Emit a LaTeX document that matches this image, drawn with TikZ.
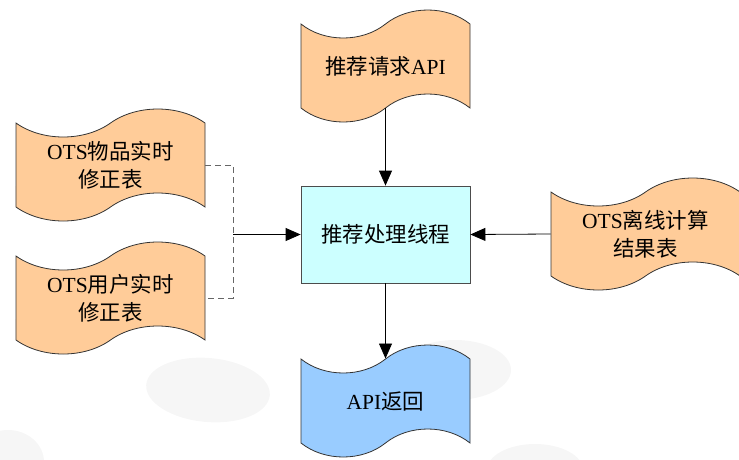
\documentclass[tikz,border=0pt]{standalone}
\usepackage{fontspec}
\setmainfont{Liberation Serif}
\newfontfamily\cjk{Noto Sans CJK SC}
\newcommand{\zh}[1]{{\cjk #1}}
\usetikzlibrary{shapes.symbols,arrows.meta}
\definecolor{peach}{HTML}{FFCC99}
\definecolor{skyblue}{HTML}{99CCFF}
\definecolor{paleaqua}{HTML}{CCFFFF}

\begin{document}
\begin{tikzpicture}[
  x=1pt, y=-1pt,
  every node/.style={
    font=\fontsize{21.5}{28}\selectfont,
    align=center,
    line width=0.8pt,
    draw=black!80,
  },
  datatape/.style={
    tape,
    tape bend top=in and out,
    tape bend bottom=in and out,
    tape bend height=28pt,
    minimum width=169pt,
    minimum height=112pt,
    fill=peach,
  },
  widetape/.style={datatape, minimum width=189pt},
  procbox/.style={
    rectangle,
    minimum width=169pt,
    minimum height=97pt,
    fill=paleaqua,
    draw=black!70,
  },
  every path/.style={line width=0.8pt},
  link/.style={-{Triangle[length=15pt,width=13pt]}},
  dashlink/.style={dash pattern=on 6pt off 4pt, draw=black!60},
  ]
  \useasboundingbox (0,0) rectangle (739,459);
  % faint background blobs
  \fill[black!3.5, rotate around={-5:(208,390)}] (208,390) ellipse (62pt and 32pt);
  \fill[black!3.5] (455,370) ellipse (56pt and 30pt);
  \fill[black!3.5] (8,462) ellipse (36pt and 32pt);
  \fill[black!3.5] (535,470) ellipse (48pt and 26pt);

  \node[datatape] (req) at (385.5,66) {\zh{推荐请求}API};
  \node[procbox] (proc) at (385.5,234.5) {\zh{推荐处理线程}};
  \node[widetape] (item) at (110.5,165) {OTS\zh{物品实时}\\\zh{修正表}};
  \node[widetape] (user) at (110.5,298) {OTS\zh{用户实时}\\\zh{修正表}};
  \node[widetape] (offline) at (645.5,234) {OTS\zh{离线计算}\\\zh{结果表}};
  \node[datatape, fill=skyblue] (ret) at (385.5,401) {API\zh{返回}};

  \coordinate (join) at (233,234.5);
  \draw[dashlink] (item.east) -| (join) |- (user.east);
  \draw[link] (join) -- (proc.west);
  \draw[link] (req.south) -- (proc.north);
  \draw[link] (offline.west) -- (proc.east);
  \draw[link] (proc.south) -- (ret.north);
\end{tikzpicture}
\end{document}
